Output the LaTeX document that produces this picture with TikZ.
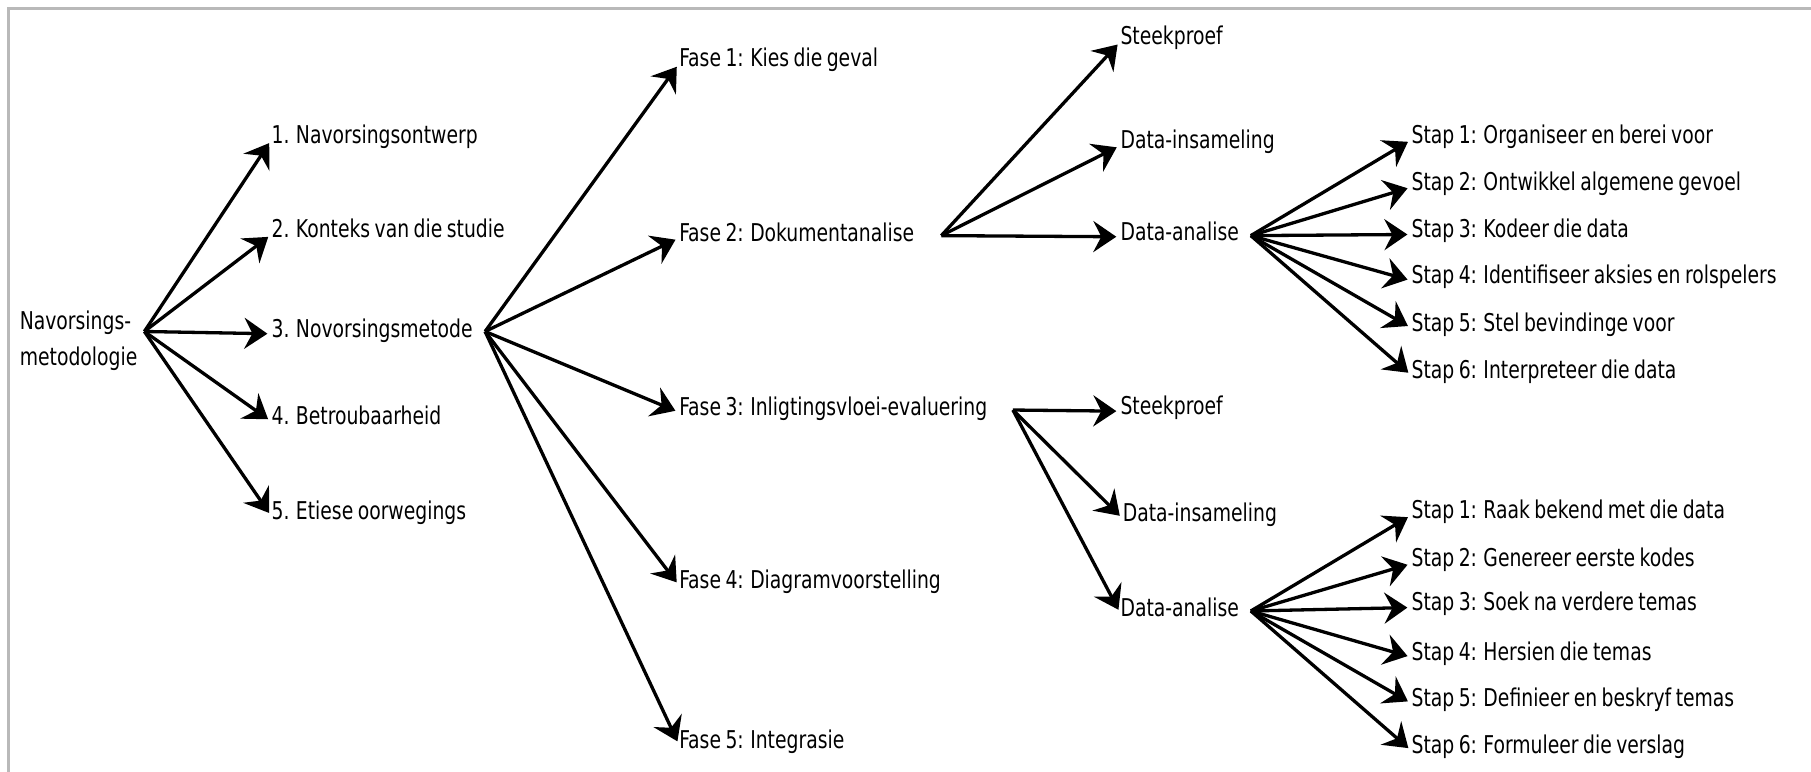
\documentclass[tikz,border=0pt]{standalone}
\usepackage{fontspec}
\setmainfont{DejaVu Sans Condensed}[FakeStretch=0.852,WordSpace=0.75]
\usetikzlibrary{arrows.meta}
\begin{document}
\begin{tikzpicture}[x=1.155pt,y=-1.155pt,
  lbl/.style={anchor=west, inner sep=0pt, text height=0.73em, text depth=0.08em,
    font=\fontsize{24.5}{36}\selectfont},
  conn/.style={line width=3.3pt, -{Stealth[length=23pt,width=31pt,inset=8pt]},
    shorten >=4pt},
  rim/.style={line width=3pt, draw=gray!55}]
\useasboundingbox (0,0) rectangle (1568,668);
% frame along the top and left edges
\draw[rim] (1568,7) -- (7,7) -- (7,668);

% root
\node[anchor=west, inner sep=0pt, align=left, font=\fontsize{24.5}{36}\selectfont]
  (root) at (17,295) {Navorsings-\\metodologie};
\coordinate (h0) at (125,287);

% first level
\node[lbl] (a1) at (235,121) {1. Navorsingsontwerp};
\node[lbl] (a2) at (235,203) {2. Konteks van die studie};
\node[lbl] (a3) at (235,289) {3. Novorsingsmetode};
\node[lbl] (a4) at (235,365) {4. Betroubaarheid};
\node[lbl] (a5) at (235,447) {5. Etiese oorwegings};
\coordinate (h3) at (420,287);

% phases
\node[lbl] (f1) at (588,55) {Fase 1: Kies die geval};
\node[lbl] (f2) at (588,206) {Fase 2: Dokumentanalise};
\node[lbl] (f3) at (588,357) {Fase 3: Inligtingsvloei-evaluering};
\node[lbl] (f4) at (588,507) {Fase 4: Diagramvoorstelling};
\node[lbl] (f5) at (588,645) {Fase 5: Integrasie};
\coordinate (hf2) at (815,204);
\coordinate (hf3) at (877,355);

% branches of phase 2
\node[lbl] (s1) at (970,36) {Steekproef};
\node[lbl] (d1) at (970,126) {Data-insameling};
\node[lbl] (da1) at (970,205) {Data-analise};
\coordinate (hda1) at (1083,204);

% branches of phase 3
\node[lbl] (s2) at (970,356) {Steekproef};
\node[lbl] (d2) at (972,449) {Data-insameling};
\node[lbl] (da2) at (970,531) {Data-analise};
\coordinate (hda2) at (1083,529);

% steps of the first analysis
\node[lbl] (p1) at (1222,121) {Stap 1: Organiseer en berei voor};
\node[lbl] (p2) at (1222,162) {Stap 2: Ontwikkel algemene gevoel};
\node[lbl] (p3) at (1222,203) {Stap 3: Kodeer die data};
\node[lbl] (p4) at (1222,243) {Stap 4: Identifiseer aksies en rolspelers};
\node[lbl] (p5) at (1222,284) {Stap 5: Stel bevindinge voor};
\node[lbl] (p6) at (1222,325) {Stap 6: Interpreteer die data};

% steps of the second analysis
\node[lbl] (q1) at (1222,446) {Stap 1: Raak bekend met die data};
\node[lbl] (q2) at (1222,488) {Stap 2: Genereer eerste kodes};
\node[lbl] (q3) at (1222,526) {Stap 3: Soek na verdere temas};
\node[lbl] (q4) at (1222,569) {Stap 4: Hersien die temas};
\node[lbl] (q5) at (1222,609) {Stap 5: Definieer en beskryf temas};
\node[lbl] (q6) at (1222,650) {Stap 6: Formuleer die verslag};

% connectors
\foreach \t in {a1,a2,a3,a4,a5} \draw[conn] (h0) -- (\t.west);
\foreach \t in {f1,f2,f3,f4,f5} \draw[conn] (h3) -- (\t.west);
\foreach \t in {s1,d1,da1} \draw[conn] (hf2) -- (\t.west);
\foreach \t in {s2,d2,da2} \draw[conn] (hf3) -- (\t.west);
\foreach \t in {p1,p2,p3,p4,p5,p6} \draw[conn] (hda1) -- (\t.west);
\foreach \t in {q1,q2,q3,q4,q5,q6} \draw[conn] (hda2) -- (\t.west);
\end{tikzpicture}
\end{document}
